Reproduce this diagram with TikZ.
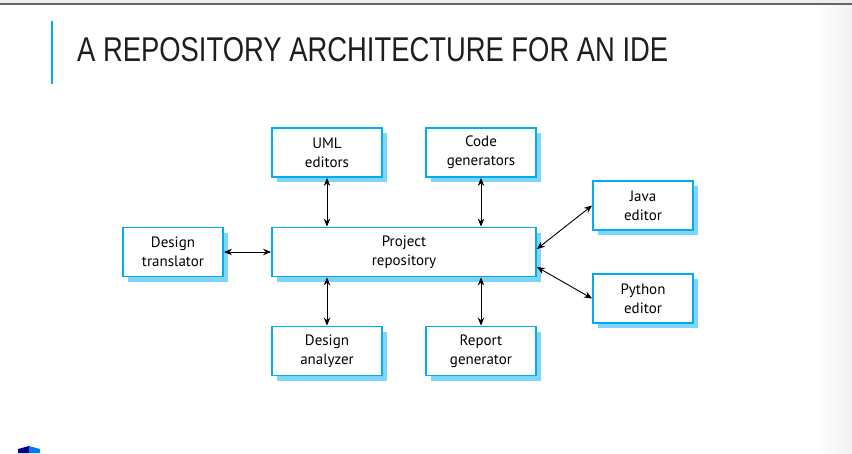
\documentclass[tikz,border=0pt]{standalone}
\usepackage{fontspec}
\setmainfont{PT Sans}
\newfontfamily\titlefont{Liberation Sans}
\usepackage{tikz}
\usetikzlibrary{positioning,arrows,arrows.meta,shadows}

\definecolor{boxblue}{RGB}{0,174,239}
\definecolor{shadowblue}{RGB}{128,212,245}
\definecolor{titlegray}{RGB}{30,30,30}

\begin{document}
\begin{tikzpicture}[x=1pt,y=-1pt,
    part/.style={draw=boxblue,line width=1.8pt,fill=white,align=center,
        inner sep=0pt,minimum height=49pt,font=\fontsize{15}{19}\selectfont,
        drop shadow={shadow xshift=5pt,shadow yshift=-5pt,fill=shadowblue,opacity=1}},
    link/.style={<->,>={Stealth[length=8pt,width=6.5pt]},line width=0.9pt}]
        \useasboundingbox (0,0) rectangle (852,453);
        % slide frame
        \fill[black!7] (0,0) rectangle (852,4);
        \draw[black!60,line width=1.2pt] (0,4) -- (852,4);
        \shade[left color=white,right color=black!5] (815,5) rectangle (852,453);
        \draw[boxblue,line width=1.3pt] (52,21) -- (52,84);
        \node[anchor=south west,inner sep=0pt,text=titlegray] (title) at (77,62)
            {\resizebox{591pt}{24pt}{\titlefont\fontsize{34}{34}\selectfont A REPOSITORY ARCHITECTURE FOR AN IDE}};
        \fill[blue!55!black] (18,453) -- (18,449) -- (29,446) -- (29,453) -- cycle;
        \fill[boxblue!70!blue] (29,446) -- (40,449) -- (40,453) -- (29,453) -- cycle;

        % tools round the repository
        \node[part,minimum width=110pt] at (327,152.5) (uml) {UML\\editors};
        \node[part,minimum width=110pt] at (481,152.5) (code) {Code\\generators};
        \node[part,minimum width=264pt] at (404,252) (repo) {Project\\repository};
        \node[part,minimum width=100pt] at (173,252) (trans) {Design\\translator};
        \node[part,minimum width=100pt] at (643,205.5) (java) {Java\\editor};
        \node[part,minimum width=100pt] at (643,298.5) (python) {Python\\editor};
        \node[part,minimum width=110pt] at (327,351) (analyzer) {Design\\analyzer};
        \node[part,minimum width=110pt] at (481,351) (report) {Report\\generator};

        \path[link]
        (uml.south) edge (uml.south |- repo.north)
        (code.south) edge (code.south |- repo.north)
        (analyzer.north) edge (analyzer.north |- repo.south)
        (report.north) edge (report.north |- repo.south)
        (trans.east) edge (repo.west)
        ([yshift=3pt]repo.east) edge (java.west)
        ([yshift=-15pt]repo.east) edge (python.west)
        ;
    \end{tikzpicture}
\end{document}
